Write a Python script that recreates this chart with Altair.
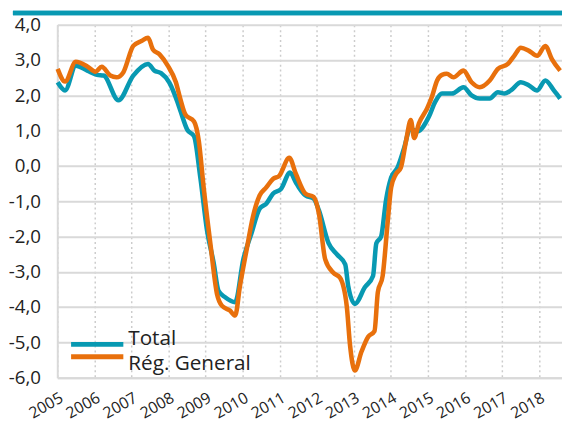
import altair as alt
import pandas as pd

TEAL = "#0899b2"
ORANGE = "#e8700c"
GRID = "#d9d9d9"
TEXT = "#222222"

series_names = ["Total", "Rég. General"]

total_t = [2005.01, 2005.21, 2005.50, 2005.81, 2006.07, 2006.25, 2006.65, 2007.05, 2007.45,
           2007.62, 2007.80, 2008.02, 2008.24, 2008.33, 2008.51, 2008.69, 2008.86, 2009.04,
           2009.22, 2009.35, 2009.53, 2009.80, 2010.02, 2010.24, 2010.46, 2010.64, 2010.82,
           2011.04, 2011.28, 2011.44, 2011.52, 2011.70, 2011.92, 2012.06, 2012.32, 2012.55,
           2012.77, 2012.85, 2013.03, 2013.30, 2013.52, 2013.61, 2013.74, 2013.87, 2014.01,
           2014.18, 2014.36, 2014.52, 2014.72, 2015.03, 2015.20, 2015.38, 2015.65, 2015.96,
           2016.18, 2016.40, 2016.67, 2016.89, 2017.07, 2017.24, 2017.51, 2017.73, 2017.95,
           2018.17, 2018.40, 2018.57]
total_v = [2.37, 2.14, 2.84, 2.70, 2.58, 2.56, 1.86, 2.56, 2.89,
           2.70, 2.63, 2.37, 1.82, 1.54, 1.02, 0.84, -0.33, -1.82,
           -2.75, -3.54, -3.72, -3.86, -2.65, -1.91, -1.21, -1.07, -0.79,
           -0.65, -0.19, -0.47, -0.61, -0.84, -0.93, -1.26, -2.19, -2.51,
           -2.79, -3.40, -3.91, -3.44, -3.12, -2.19, -2.00, -0.98, -0.33,
           -0.05, 0.51, 1.05, 0.98, 1.40, 1.82, 2.05, 2.05, 2.23,
           2.00, 1.91, 1.91, 2.09, 2.05, 2.14, 2.37, 2.28, 2.14,
           2.42, 2.14, 1.91]

reg_t = [2005.01, 2005.21, 2005.50, 2005.81, 2006.03, 2006.20, 2006.43, 2006.60, 2006.78,
         2007.05, 2007.27, 2007.45, 2007.58, 2007.76, 2007.98, 2008.20, 2008.32, 2008.46,
         2008.69, 2008.82, 2008.95, 2009.13, 2009.31, 2009.44, 2009.66, 2009.80, 2009.93,
         2010.11, 2010.28, 2010.46, 2010.64, 2010.82, 2010.99, 2011.26, 2011.44, 2011.70,
         2011.92, 2012.06, 2012.23, 2012.45, 2012.63, 2012.81, 2012.90, 2013.03, 2013.21,
         2013.39, 2013.56, 2013.65, 2013.78, 2013.92, 2014.01, 2014.14, 2014.27, 2014.41,
         2014.54, 2014.63, 2014.76, 2014.98, 2015.11, 2015.25, 2015.38, 2015.51, 2015.69,
         2015.96, 2016.18, 2016.40, 2016.67, 2016.89, 2017.16, 2017.33, 2017.51, 2017.73,
         2017.95, 2018.17, 2018.35, 2018.57]
reg_v = [2.75, 2.39, 2.95, 2.82, 2.67, 2.81, 2.56, 2.51, 2.65,
         3.40, 3.54, 3.63, 3.30, 3.16, 2.84, 2.37, 1.90, 1.45,
         1.26, 0.70, -0.61, -2.19, -3.63, -3.96, -4.10, -4.24, -3.40,
         -2.37, -1.44, -0.84, -0.61, -0.37, -0.28, 0.23, -0.23, -0.79,
         -0.88, -1.35, -2.65, -3.03, -3.17, -3.96, -5.08, -5.80, -5.26,
         -4.84, -4.68, -3.58, -3.12, -1.54, -0.61, -0.23, -0.05, 0.70,
         1.30, 0.79, 1.21, 1.63, 1.96, 2.42, 2.58, 2.61, 2.51,
         2.70, 2.37, 2.23, 2.42, 2.75, 2.89, 3.12, 3.35, 3.26,
         3.12, 3.40, 3.02, 2.70]

year_ticks = list(range(2005, 2019))
y_ticks = [4, 3, 2, 1, 0, -1, -2, -3, -4, -5, -6]

df = pd.concat([
    pd.DataFrame({"t": total_t, "v": total_v, "serie": series_names[0]}),
    pd.DataFrame({"t": reg_t, "v": reg_v, "serie": series_names[1]}),
], ignore_index=True)
legend_df = pd.DataFrame({"serie": series_names})

W, H = 512, 358
color = alt.Color("serie:N", scale=alt.Scale(domain=series_names, range=[TEAL, ORANGE]), legend=None)

lines = alt.Chart(df).mark_line(strokeWidth=4.6, interpolate="monotone").encode(
    x=alt.X("t:Q",
            scale=alt.Scale(domain=[2005, 2018.62], nice=False, zero=False),
            axis=alt.Axis(values=year_ticks, title=None,
                          labelExpr="format(datum.value, 'd')",
                          labelAngle=-30, labelAlign="right", labelBaseline="top",
                          labelOverlap=False,
                          labelFont="Open Sans", labelFontSize=16, labelColor=TEXT,
                          labelPadding=12, ticks=False,
                          domain=True, domainColor=GRID, domainWidth=2,
                          grid=True, gridColor="#cccccc", gridWidth=1.5, gridDash=[2, 3])),
    y=alt.Y("v:Q",
            scale=alt.Scale(domain=[-6, 4], nice=False, zero=False),
            axis=alt.Axis(values=y_ticks, title=None,
                          labelExpr="replace(replace(format(datum.value, '.1f'), '.', ','), '\u2212', '-')",
                          labelFont="Open Sans", labelFontSize=19, labelColor=TEXT,
                          labelPadding=17, ticks=False,
                          domain=True, domainColor=GRID, domainWidth=2,
                          grid=True, gridColor=GRID, gridWidth=2)),
    color=color,
)

legend_y = alt.Y("serie:N", scale=alt.Scale(domain=series_names, range=[318, 343], padding=0), axis=None)

legend_lines = alt.Chart(legend_df).mark_rule(strokeWidth=5).encode(
    x=alt.value(14), x2=alt.value(67), y=legend_y, color=color
)
legend_text = alt.Chart(legend_df).mark_text(
    align="left", baseline="middle", font="Open Sans", fontSize=21, color=TEXT, dy=1
).encode(x=alt.value(72), y=legend_y, text="serie:N")

top_bar = alt.Chart(legend_df).mark_rule(color=TEAL, strokeWidth=4.5).encode(
    x=alt.value(-45), x2=alt.value(W), y=alt.value(-12)
)

chart = alt.layer(top_bar, lines, legend_lines, legend_text).resolve_scale(y="independent").properties(
    width=W, height=H,
    autosize=alt.AutoSizeParams(type="none"),
    padding={"left": 50, "top": 14, "right": 0, "bottom": 43},
).configure_view(stroke=None)

chart.save("out.html", embed_options={"renderer": "svg", "actions": False})
